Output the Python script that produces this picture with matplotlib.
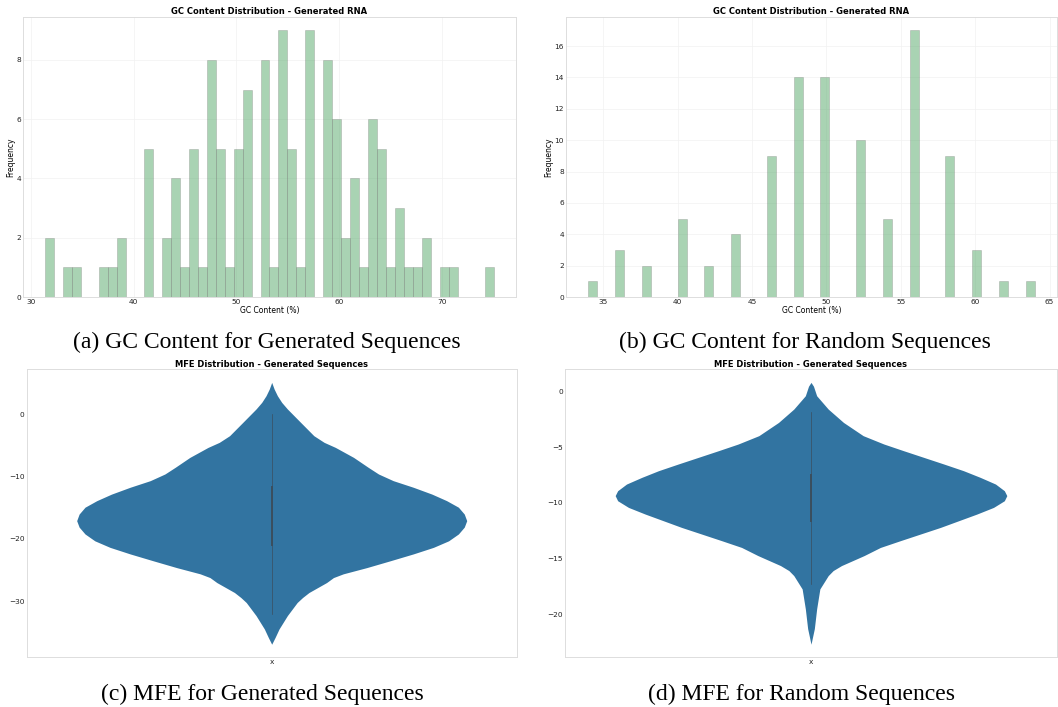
import numpy as np
import matplotlib
matplotlib.use('Agg')
import matplotlib.pyplot as plt

# (a) GC content, generated sequences: 50 equal bins between lo and hi
gc_gen_lo = 31.42
gc_gen_hi = 75.0
gc_gen_counts = [2, 0, 1, 1, 0, 0, 1, 1, 2, 0,
                 0, 5, 0, 2, 4, 1, 5, 1, 8, 5,
                 1, 5, 7, 0, 8, 1, 9, 5, 1, 9,
                 0, 8, 6, 2, 4, 1, 6, 5, 1, 3,
                 1, 1, 2, 0, 1, 1, 0, 0, 0, 1]

# (b) GC content, random sequences (values are discrete, 2% steps)
gc_rand_values = [34, 36, 38, 40, 42, 44, 46, 48, 50, 52, 54, 56, 58, 60, 62, 64]
gc_rand_counts = [1, 3, 2, 5, 2, 4, 9, 14, 14, 10, 5, 17, 9, 3, 1, 1]

# (c) MFE violin outline for generated sequences: y and half width
mfe_gen_y = [5.14, 4.07, 3.0, 1.93, 0.87, -1.28, -3.42, -4.49, -5.3, -6.9,
             -8.5, -9.57, -10.64, -11.7, -12.8, -13.85, -14.9, -16.0, -17.06,
             -18.1, -19.2, -20.3, -21.35, -22.4, -23.5, -24.6, -25.6, -26.2,
             -27.0, -27.8, -28.6, -29.4, -30.2, -32.3, -34.45, -35.8, -36.9]
mfe_gen_hw = [0.0, 0.005, 0.0116, 0.0204, 0.032, 0.059, 0.086, 0.107, 0.13, 0.167,
              0.197, 0.218, 0.248, 0.289, 0.327, 0.357, 0.381, 0.393, 0.398,
              0.393, 0.381, 0.361, 0.33, 0.289, 0.242, 0.194, 0.146, 0.126,
              0.112, 0.094, 0.076, 0.063, 0.052, 0.032, 0.015, 0.007, 0.0]
mfe_gen_box = {'whislo': -32.0, 'q1': -21.0, 'med': -16.3, 'q3': -11.7, 'whishi': 0.0}

# (d) MFE violin outline for random sequences
mfe_rand_y = [0.84, 0.5, -0.36, -1.56, -2.76, -3.95, -4.7, -5.3, -5.9, -6.5,
              -7.1, -7.7, -8.3, -8.9, -9.34, -9.8, -10.4, -11.0, -11.6, -12.2,
              -12.8, -13.4, -14.0, -14.73, -15.63, -16.08, -16.53, -17.73,
              -19.52, -21.3, -22.7]
mfe_rand_hw = [0.0, 0.005, 0.0115, 0.035, 0.066, 0.106, 0.148, 0.188, 0.229, 0.27,
               0.31, 0.344, 0.375, 0.393, 0.398, 0.393, 0.371, 0.337, 0.3, 0.263,
               0.222, 0.181, 0.141, 0.108, 0.062, 0.045, 0.035, 0.018,
               0.0115, 0.0068, 0.0]
mfe_rand_box = {'whislo': -17.3, 'q1': -11.6, 'med': -9.3, 'q3': -7.5, 'whishi': -1.85}

W, H = 1058, 707
fig = plt.figure(figsize=(W / 100, H / 100), dpi=100)


def px_axes(left, top, right, bottom):
    return fig.add_axes([left / W, 1 - bottom / H, (right - left) / W, (bottom - top) / H])


def style(ax):
    for s in ax.spines.values():
        s.set_color('#dddddd')
        s.set_linewidth(0.7)
    ax.tick_params(length=0, labelsize=5.3, pad=1.5, colors='#222222')


bar_kw = dict(color='#55a868', alpha=0.5, edgecolor='#777777', linewidth=0.4)
title_kw = dict(fontsize=6, fontweight='bold', pad=2)

# (a)
ax = px_axes(23, 17, 516, 297)
edges = np.linspace(gc_gen_lo, gc_gen_hi, len(gc_gen_counts) + 1)
ax.hist(edges[:-1], bins=edges, weights=gc_gen_counts, **bar_kw)
ax.set_xticks([30, 40, 50, 60, 70])
ax.set_yticks([0, 2, 4, 6, 8])
ax.grid(True, color='#f2f2f2', linewidth=0.5)
ax.set_axisbelow(True)
ax.set_title('GC Content Distribution - Generated RNA', **title_kw)
ax.set_xlabel('GC Content (%)', fontsize=5.5, labelpad=1)
ax.set_ylabel('Frequency', fontsize=5.5, labelpad=1)
style(ax)

# (b)
ax = px_axes(566, 17, 1057, 297)
ax.hist(gc_rand_values, bins=50, weights=gc_rand_counts, **bar_kw)
ax.set_xticks([35, 40, 45, 50, 55, 60, 65])
ax.set_yticks(range(0, 17, 2))
ax.grid(True, color='#f2f2f2', linewidth=0.5)
ax.set_axisbelow(True)
ax.set_title('GC Content Distribution - Generated RNA', **title_kw)
ax.set_xlabel('GC Content (%)', fontsize=5.5, labelpad=1)
ax.set_ylabel('Frequency', fontsize=5.5, labelpad=1)
style(ax)


def violin(ax, y, hw, box, ticks):
    y = np.array(y)
    hw = np.array(hw)
    ax.fill_betweenx(y, -hw, hw, color='#3274a1', linewidth=0)
    ax.plot([0, 0], [box['whislo'], box['whishi']], color='#3b4e5e', lw=0.5)
    ax.plot([0, 0], [box['q1'], box['q3']], color='#3b4e5e', lw=1.4)
    ax.set_xlim(-0.5, 0.5)
    span = y.max() - y.min()
    ax.set_ylim(y.min() - 0.05 * span, y.max() + 0.05 * span)
    ax.set_xticks([0])
    ax.set_xticklabels(['x'])
    ax.set_yticks(ticks)
    ax.set_title('MFE Distribution - Generated Sequences', **title_kw)
    style(ax)


# (c)
ax = px_axes(26.7, 369.3, 516.7, 657.3)
violin(ax, mfe_gen_y, mfe_gen_hw, mfe_gen_box, [0, -10, -20, -30])

# (d)
ax = px_axes(565, 369.3, 1057, 657.3)
violin(ax, mfe_rand_y, mfe_rand_hw, mfe_rand_box, [0, -5, -10, -15, -20])

captions = [(267, 342, '(a) GC Content for Generated Sequences'),
            (805, 342, '(b) GC Content for Random Sequences'),
            (262, 694, '(c) MFE for Generated Sequences'),
            (802, 694, '(d) MFE for Random Sequences')]
for cx, cy, txt in captions:
    fig.text(cx / W, 1 - cy / H, txt, ha='center', va='center',
             fontsize=17, family='Liberation Serif')

fig.savefig('out.png', dpi=100)
